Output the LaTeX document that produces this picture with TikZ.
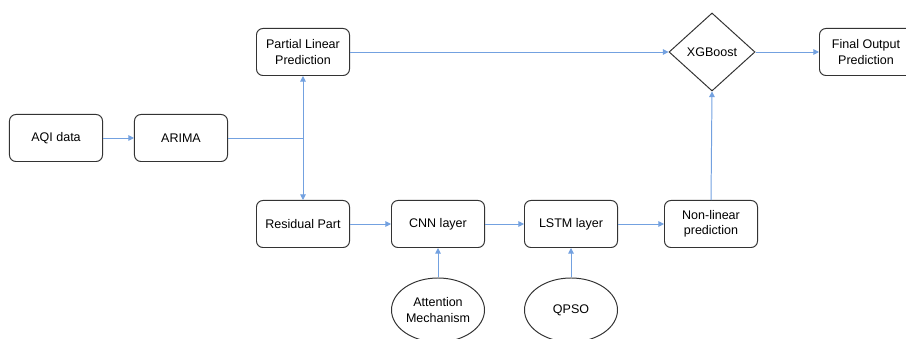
\documentclass[tikz,border=0pt]{standalone}
\usepackage{fontspec}
\setmainfont{Liberation Sans}
\usetikzlibrary{shapes.geometric,arrows.meta}
\begin{document}
\begin{tikzpicture}[x=0.025cm,y=-0.025cm,
    box/.style={draw=edge_col,line width=0.7pt,rounded corners=0.16cm,minimum width=2.325cm,minimum height=1.175cm,align=center,inner sep=1pt,font=\fontsize{8.9}{10.8}\selectfont},
    oval/.style={draw=edge_col,line width=0.7pt,ellipse,minimum width=2.325cm,minimum height=1.6cm,align=center,inner sep=0pt,font=\fontsize{8.9}{10.8}\selectfont},
    decide/.style={draw=edge_col,line width=0.7pt,diamond,minimum width=2.15cm,minimum height=1.95cm,inner sep=0pt,font=\fontsize{8.9}{10.8}\selectfont},
    link/.style={draw=link_col,line width=0.7pt,-{Triangle[length=4pt,width=4pt]}}]
    \definecolor{edge_col}{rgb}{0.2, 0.2, 0.2}
    \definecolor{link_col}{rgb}{0.45, 0.63, 0.88}
    \useasboundingbox (0,0) rectangle (906,339);

    \node[box] (aqi_box) at (56,138) {AQI data};
    \node[box] (arima_box) at (181,138) {ARIMA};
    \node[box] (linear_box) at (303,52) {Partial Linear\\Prediction};
    \node[box] (resid_box) at (303,224) {Residual Part};
    \node[box] (cnn_box) at (438,224) {CNN layer};
    \node[box] (lstm_box) at (571,224) {LSTM layer};
    \node[box] (nonlin_box) at (711,224) {Non-linear\\prediction};
    \node[decide] (xgb_box) at (712,52) {XGBoost};
    \node[box] (final_box) at (866,52) {Final Output\\Prediction};
    \node[oval] (attn_oval) at (438,310) {Attention\\Mechanism};
    \node[oval] (qpso_oval) at (571,310) {QPSO};

    \coordinate (split) at (303,138);

    \draw[link] (aqi_box) -- (arima_box);
    \draw[draw=link_col,line width=0.7pt] (arima_box.east) -- (split);
    \draw[link] (split) -- (linear_box.south);
    \draw[link] (split) -- (resid_box.north);
    \draw[link] (linear_box) -- (xgb_box);
    \draw[link] (xgb_box) -- (final_box);
    \draw[link] (resid_box) -- (cnn_box);
    \draw[link] (cnn_box) -- (lstm_box);
    \draw[link] (lstm_box) -- (nonlin_box);
    \draw[link] (nonlin_box.north) -- (xgb_box.south);
    \draw[link] (attn_oval) -- (cnn_box);
    \draw[link] (qpso_oval) -- (lstm_box);

\end{tikzpicture}
\end{document}
